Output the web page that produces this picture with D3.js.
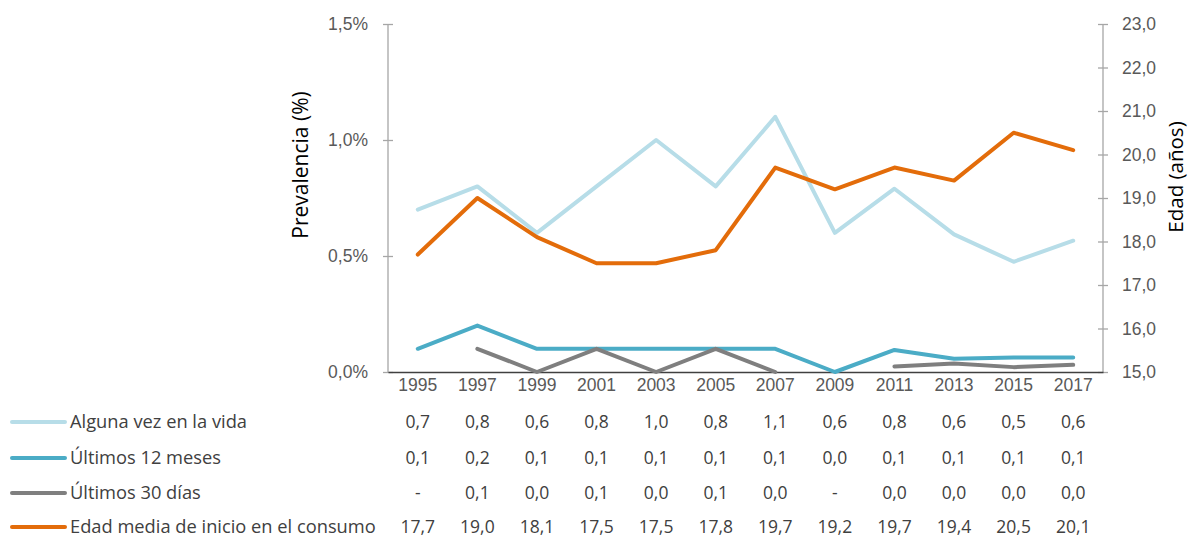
<!DOCTYPE html>
<html><head><meta charset="utf-8">
<script src="https://cdn.jsdelivr.net/npm/d3@7"></script>
<style>
body{margin:0;background:#fff;}
svg{display:block;font-family:"Open Sans","Noto Sans",sans-serif;}
</style></head>
<body><svg id="c" width="1188" height="537"></svg>
<script>
const years = [1995,1997,1999,2001,2003,2005,2007,2009,2011,2013,2015,2017];
const algunaVez = [0.70,0.80,0.60,0.80,1.00,0.80,1.10,0.60,0.79,0.593,0.475,0.566];
const ultimos12 = [0.10,0.20,0.10,0.10,0.10,0.10,0.10,0.00,0.095,0.057,0.063,0.063];
const ultimos30 = [null,0.10,0.00,0.10,0.00,0.10,0.00,null,0.024,0.037,0.021,0.031];
const edadMedia = [17.7,19.0,18.1,17.5,17.5,17.8,19.7,19.2,19.7,19.4,20.5,20.1];
const leftTicks = [0,0.5,1.0,1.5];
const rightTicks = [15,16,17,18,19,20,21,22,23];

const series = [
  {name:"Alguna vez en la vida", values:algunaVez, axis:"left", color:"#b7dde8"},
  {name:"Últimos 12 meses", values:ultimos12, axis:"left", color:"#4bacc6"},
  {name:"Últimos 30 días", values:ultimos30, axis:"left", color:"#7f7f7f"},
  {name:"Edad media de inicio en el consumo", values:edadMedia, axis:"right", color:"#e36c0a"}
];

const svg = d3.select("#c");
const x0 = 388, x1 = 1103, yTop = 24, yBot = 372;
const FS = 17.5;
const x = d3.scaleBand().domain(years).range([x0,x1]).padding(0);
const yL = d3.scaleLinear().domain([0,1.5]).range([yBot,yTop]);
const yR = d3.scaleLinear().domain([15,23]).range([yBot,yTop]);
const cx = d => x(d) + x.bandwidth()/2;
const fmt = v => v==null ? "-" : d3.format(".1f")(v).replace(".", ",");
const textCol = "#595959";

// left axis
const gl = svg.append("g").attr("transform",`translate(${x0},0)`)
  .call(d3.axisLeft(yL).tickValues(leftTicks).tickSize(5).tickPadding(15)
    .tickFormat(d => d3.format(".1f")(d).replace(".", ",") + "%"));
gl.select(".domain").attr("stroke","#a6a6a6").attr("stroke-width",1.3).attr("d",`M0,${yTop}V${yBot}`);
gl.selectAll(".tick line").attr("stroke","#a6a6a6").attr("stroke-width",1.3).attr("x1",5).attr("x2",-5);
gl.selectAll(".tick text").attr("fill",textCol).attr("font-size",FS);

// right axis
const gr = svg.append("g").attr("transform",`translate(${x1},0)`)
  .call(d3.axisRight(yR).tickValues(rightTicks).tickSize(5).tickPadding(14)
    .tickFormat(d => d3.format(".1f")(d).replace(".", ",")));
gr.select(".domain").attr("stroke","#a6a6a6").attr("stroke-width",1.3).attr("d",`M0,${yTop}V${yBot}`);
gr.selectAll(".tick line").attr("stroke","#a6a6a6").attr("stroke-width",1.3).attr("x1",-5).attr("x2",5);
gr.selectAll(".tick text").attr("fill",textCol).attr("font-size",FS);

// bottom axis
const gb = svg.append("g").attr("transform",`translate(0,${yBot})`)
  .call(d3.axisBottom(x).tickSize(0).tickPadding(7));
gb.select(".domain").attr("stroke","#404040").attr("stroke-width",1.3);
gb.selectAll(".tick text").attr("fill",textCol).attr("font-size",FS);

// axis titles
svg.append("text").attr("transform","translate(308,165) rotate(-90)")
  .attr("text-anchor","middle").attr("font-size",21).attr("fill","#000").text("Prevalencia (%)");
svg.append("text").attr("transform","translate(1183,177) rotate(-90)")
  .attr("text-anchor","middle").attr("font-size",20.5).attr("fill","#000").text("Edad (años)");

// lines
series.forEach(s => {
  const ys = s.axis==="left" ? yL : yR;
  const line = d3.line().defined(d => d.v!=null).x(d => cx(d.yr)).y(d => ys(d.v));
  svg.append("path").datum(years.map((yr,i)=>({yr, v:s.values[i]})))
    .attr("d",line).attr("fill","none").attr("stroke",s.color)
    .attr("stroke-width",4).attr("stroke-linejoin","round").attr("stroke-linecap","round");
});

// data table
const rowY = [422,458,493,527];
series.forEach((s,i) => {
  const g = svg.append("g").attr("transform",`translate(0,${rowY[i]})`);
  g.append("line").attr("x1",12).attr("x2",65).attr("y1",0).attr("y2",0)
    .attr("stroke",s.color).attr("stroke-width",4).attr("stroke-linecap","round");
  g.append("text").attr("x",70).attr("dy","0.35em").attr("font-size",18.3).attr("fill","#404040").text(s.name);
  g.selectAll("text.v").data(s.values).enter().append("text").attr("class","v")
    .attr("x",(d,j)=>cx(years[j])).attr("dy","0.35em").attr("text-anchor","middle")
    .attr("font-size",FS).attr("fill","#404040").text(d=>fmt(d));
});
</script></body></html>
